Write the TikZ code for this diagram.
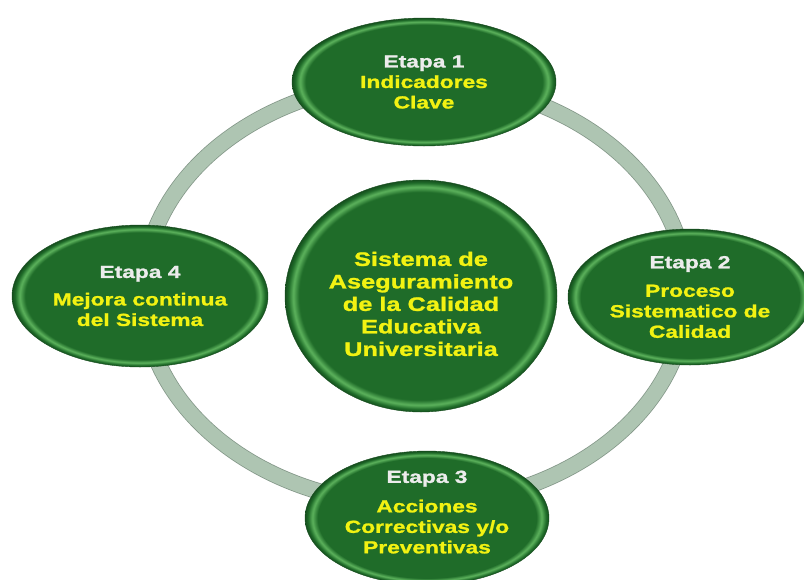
\documentclass[tikz,border=0pt]{standalone}
\usepackage{fontspec}
\newfontfamily\diagfont[FakeStretch=1.3, BoldFeatures={FakeBold=1.3}]{Liberation Sans}
\usetikzlibrary{shapes.geometric}
\usetikzlibrary{positioning}
\definecolor{verde}{RGB}{31,108,41}
\definecolor{verdeclaro}{RGB}{92,178,92}
\definecolor{verdeoscuro}{RGB}{22,78,30}
\definecolor{anillo}{RGB}{174,197,178}
\definecolor{anilloborde}{RGB}{132,152,137}
\definecolor{amarillo}{RGB}{242,242,18}
\definecolor{etiqueta}{RGB}{236,236,236}
% bevelled look of the green ovals
\pgfdeclareradialshading{bisel}{\pgfpoint{0bp}{0bp}}{color(0bp)=(verde); color(22.4bp)=(verde); color(23.5bp)=(verdeclaro); color(24.4bp)=(verde); color(25bp)=(verdeoscuro); color(50bp)=(verdeoscuro)}
\tikzset{x=1pt, y=-1pt, % pixel like units
every node/.style={ % Sets the properties for each oval
inner sep=0pt,
align=center,
text=amarillo},
etapa/.style={ % Sets the properties for the four stages
ellipse,
shade, shading=bisel,
draw=verdeoscuro, thin,
font=\diagfont\bfseries\fontsize{17.5}{20.5}\selectfont},
nucleo/.style={ % Central oval
etapa,
font=\diagfont\bfseries\fontsize{19.5}{22.5}\selectfont},
anillo/.style={ % Ring joining the stages
draw=anilloborde,
line width=0.8pt,
double=anillo,
double distance=15pt}}
\newcommand{\etq}[1]{{\color{etiqueta}#1}}

\begin{document}
\begin{tikzpicture}
    \useasboundingbox (0,0) rectangle (804,579);
    \draw[anillo] (415,293) ellipse [x radius=272, y radius=212];
    \node[nucleo, minimum width=272pt, minimum height=232pt] (centro) at (421,296)
        {\rule{0pt}{30pt}Sistema de\\Aseguramiento\\de la Calidad\\Educativa\\Universitaria};
    \node[etapa, above of=centro, node distance=214pt, xshift=3pt,
        minimum width=264pt, minimum height=128pt] (e1)
        {\etq{Etapa 1}\\Indicadores\\Clave};
    \node[etapa, right of=centro, node distance=269pt, yshift=-1pt,
        minimum width=244pt, minimum height=136pt] (e2)
        {\etq{Etapa 2}\\[8pt]Proceso\\Sistematico de\\Calidad};
    \node[etapa, below of=centro, node distance=222pt, xshift=6pt,
        minimum width=244pt, minimum height=132pt] (e3)
        {\etq{Etapa 3}\\[9pt]Acciones\\Correctivas y/o\\Preventivas\rule[-12pt]{0pt}{0pt}};
    \node[etapa, left of=centro, node distance=281pt,
        minimum width=256pt, minimum height=142pt] (e4)
        {\etq{Etapa 4}\\[7pt]Mejora continua\\del Sistema};
  \end{tikzpicture}
\end{document}
